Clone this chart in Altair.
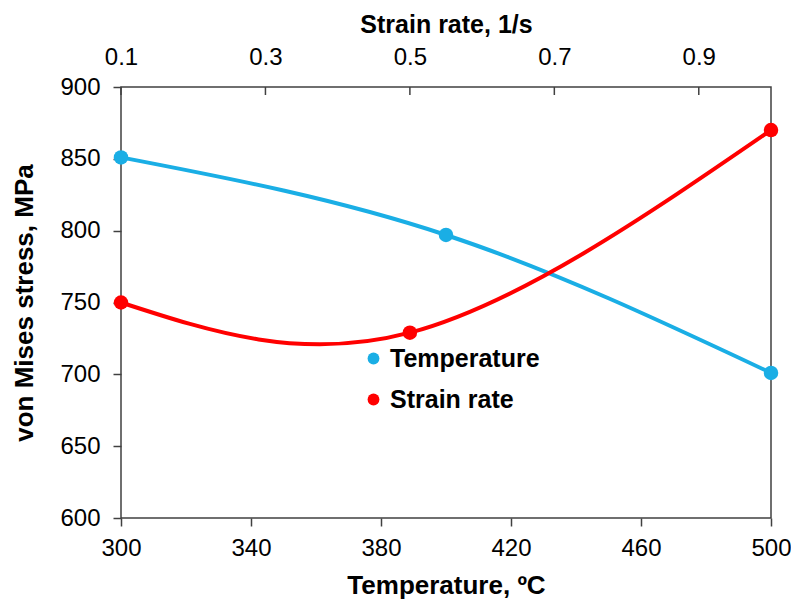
import altair as alt
import pandas as pd

# Data
temp = [300, 400, 500]
temp_stress = [851, 797, 701]
strain = [0.1, 0.5, 1.0]
strain_stress = [750, 729, 870]
strain_ticks = [0.1, 0.3, 0.5, 0.7, 0.9]
temp_ticks = [300, 340, 380, 420, 460, 500]
y_ticks = [600, 650, 700, 750, 800, 850, 900]
series_names = ["Temperature", "Strain rate"]
series_colors = ["#1AAEE5", "#FF0000"]

FONT = "Liberation Sans"
AX = "#404040"

df_t = pd.DataFrame({"x": temp, "y": temp_stress, "series": "Temperature"})
df_s = pd.DataFrame({"x": strain, "y": strain_stress, "series": "Strain rate"})
df_ticks = pd.DataFrame({"x": strain_ticks})

yenc = alt.Y("y:Q", scale=alt.Scale(domain=[600, 900], nice=False, zero=False),
             axis=alt.Axis(values=y_ticks, title="von Mises stress, MPa", tickSize=8,
                           labelPadding=13, titlePadding=22, domain=False,
                           tickColor=AX, tickWidth=1.5))

color = alt.Color("series:N",
                  scale=alt.Scale(domain=series_names, range=series_colors),
                  legend=alt.Legend(title=None, orient="none", legendX=240, legendY=259,
                                    symbolType="circle", symbolSize=140,
                                    labelFontSize=25, labelFontWeight="bold",
                                    labelFont=FONT, labelColor="#000",
                                    rowPadding=15, labelOffset=4, padding=0,
                                    symbolStrokeWidth=0))

xt = alt.X("x:Q", scale=alt.Scale(domain=[300, 500], nice=False, zero=False),
           axis=alt.Axis(values=temp_ticks, title="Temperature, ºC", orient="bottom",
                         tickSize=8, labelPadding=10, titlePadding=12, domain=False,
                         labelFlush=False, tickColor=AX, tickWidth=1.5))
xs = alt.X("x:Q", scale=alt.Scale(domain=[0.1, 1.0], nice=False, zero=False),
           axis=alt.Axis(values=strain_ticks, title="Strain rate, 1/s", orient="top",
                         format=".1f", ticks=False, labelPadding=18, titlePadding=8,
                         titleFontSize=25, labelFlush=False, domain=False))

t_line = alt.Chart(df_t).mark_line(interpolate="natural", strokeWidth=4,
                                   color=series_colors[0]).encode(x=xt, y=yenc)
t_pts = alt.Chart(df_t).mark_point(filled=True, opacity=1, size=210).encode(
    x=xt, y=yenc, color=color)
s_line = alt.Chart(df_s).mark_line(interpolate="natural", strokeWidth=4,
                                   color=series_colors[1]).encode(x=xs, y=yenc)
s_pts = alt.Chart(df_s).mark_point(filled=True, opacity=1, size=210).encode(
    x=xs, y=yenc, color=color)
s_ticks = alt.Chart(df_ticks).mark_rule(color=AX, strokeWidth=1.5).encode(
    x=xs, y=alt.value(0), y2=alt.value(8))

chart = alt.layer(
    alt.layer(t_line, t_pts),
    alt.layer(s_line, s_ticks, s_pts),
).resolve_scale(x="independent").properties(
    width=650, height=431,
    background="white",
    autosize=alt.AutoSizeParams(type="none"),
    padding={"left": 113, "top": 79, "right": 20, "bottom": 81},
).configure_view(
    stroke=AX, strokeWidth=1.5
).configure_axis(
    grid=False, labelFont=FONT, titleFont=FONT, labelFontSize=24, titleFontSize=26,
    titleFontWeight="bold", labelColor="#000", titleColor="#000"
)

chart.save("out.html", embed_options={"renderer": "svg", "actions": False})
